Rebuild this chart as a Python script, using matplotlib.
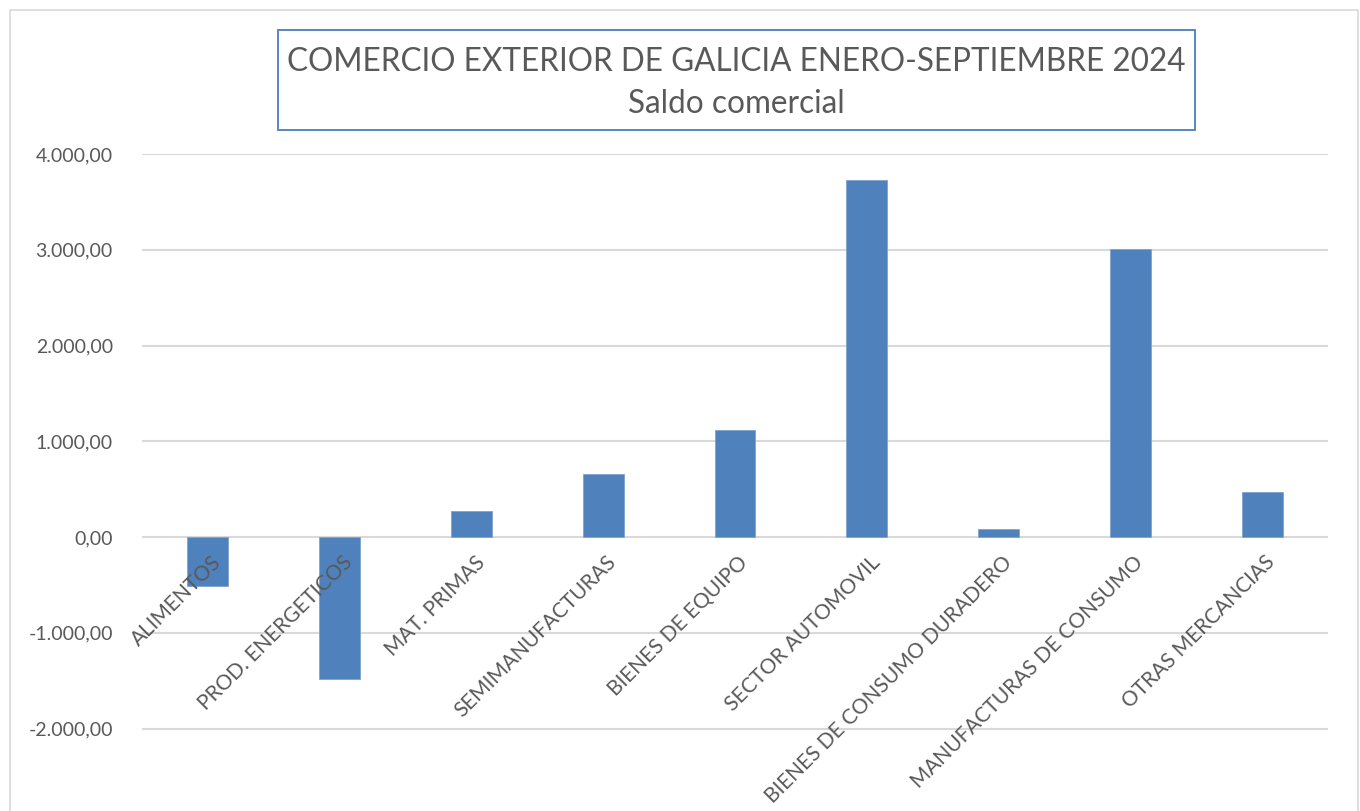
import matplotlib
matplotlib.use("Agg")
import matplotlib.pyplot as plt
from matplotlib.patches import Rectangle
from matplotlib.ticker import FuncFormatter
from matplotlib.transforms import offset_copy

categories = ["ALIMENTOS", "PROD. ENERGETICOS", "MAT. PRIMAS", "SEMIMANUFACTURAS",
              "BIENES DE EQUIPO", "SECTOR AUTOMOVIL", "BIENES DE CONSUMO DURADERO",
              "MANUFACTURAS DE CONSUMO", "OTRAS MERCANCIAS"]
saldo = [-508, -1487, 271, 658, 1114, 3727, 80, 3013, 470]
yticks = [-2000, -1000, 0, 1000, 2000, 3000, 4000]
title_lines = ["COMERCIO EXTERIOR DE GALICIA ENERO-SEPTIEMBRE 2024", "Saldo comercial"]

plt.rcParams['font.family'] = ['Lato', 'DejaVu Sans']

W, H = 1360, 811
fig = plt.figure(figsize=(W / 100, H / 100), dpi=100)

# chart area border
fig.patches.append(Rectangle((10 / W, -0.01), (1358 - 10) / W, (H - 10) / H + 0.01,
                             transform=fig.transFigure, fill=False,
                             edgecolor='#D9D9D9', linewidth=1.2))

ax = fig.add_axes([142 / W, 0.0, (1328 - 142) / W, (H - 154) / H])
x = list(range(len(categories)))
ax.bar(x, saldo, width=0.31, color='#4F81BD', edgecolor='#7FA3D0', linewidth=0.6, zorder=3)

ax.set_xlim(-0.5, len(categories) - 0.5)
ax.set_ylim(-(H - 537) / 95.8 * 1000, 4000)
ax.set_yticks(yticks)
ax.yaxis.set_major_formatter(FuncFormatter(
    lambda v, p: f"{v:,.2f}".replace(",", "X").replace(".", ",").replace("X", ".")))
ax.grid(axis='y', color='#D9D9D9', linewidth=1.5, zorder=0)
ax.set_axisbelow(True)
for s in ['top', 'right', 'left', 'bottom']:
    ax.spines[s].set_visible(False)
ax.tick_params(axis='y', length=0, pad=21, labelsize=14, labelcolor='#595959')
ax.set_xticks(x)
ax.set_xticklabels([])
ax.tick_params(axis='x', length=0)
ax.patch.set_alpha(0)

# category labels drawn above the bars, anchored at the zero line
lab_tr = offset_copy(ax.transData, fig=fig, x=3, y=-15, units='dots')
for i, name in zip(x, categories):
    ax.text(i, 0, name, transform=lab_tr, rotation=45, ha='right', va='top',
            rotation_mode='anchor', fontsize=15, color='#595959', zorder=5)

# title box
fig.patches.append(Rectangle((278 / W, (H - 130) / H), (1195 - 278) / W, 100 / H,
                             transform=fig.transFigure, fill=False,
                             edgecolor='#4A7EBB', linewidth=1.3))
fig.text(736.5 / W, (H - 62) / H, title_lines[0], ha='center', va='center',
         fontsize=22.7, color='#595959')
fig.text(736.5 / W, (H - 104) / H, title_lines[1], ha='center', va='center',
         fontsize=22.7, color='#595959')

fig.savefig("out.png", dpi=100, facecolor='white')
